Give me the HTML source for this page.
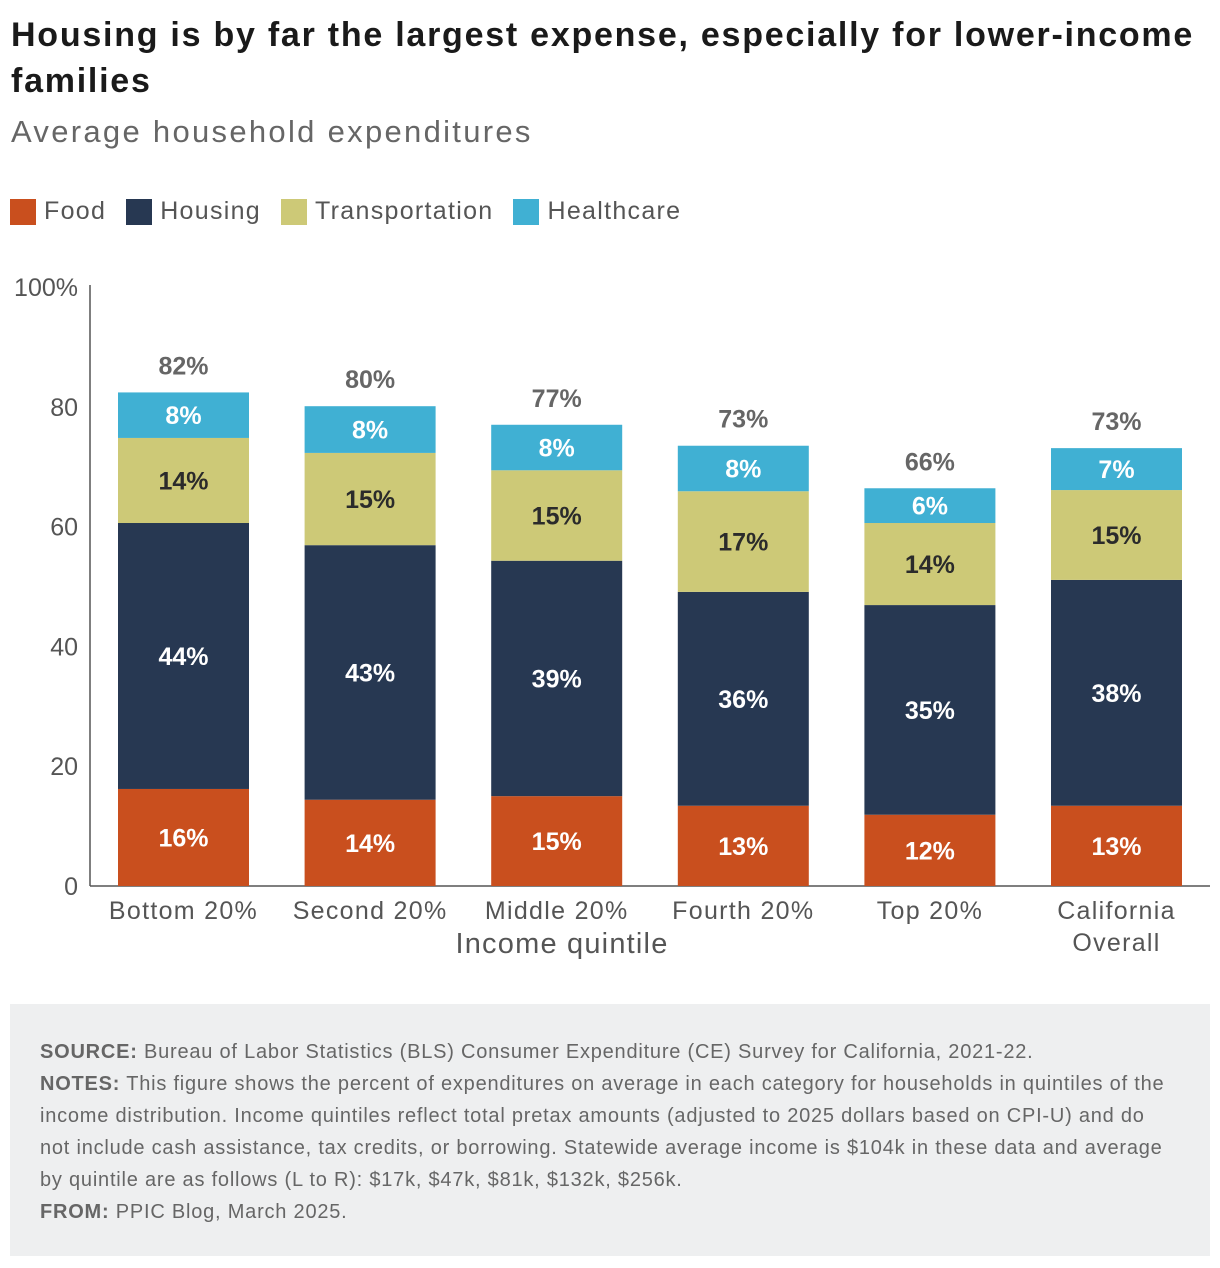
<!DOCTYPE html>
<html><head><meta charset="utf-8"><style>
body{margin:0;background:#fff;font-family:"Liberation Sans",sans-serif;width:1220px;height:1268px;position:relative;overflow:hidden}
.t{position:absolute;left:11px;top:12px;font-size:34px;font-weight:bold;color:#1a1a1a;line-height:46px;width:1205px;letter-spacing:1.75px}
.s{position:absolute;left:11px;top:114px;font-size:31px;color:#666;letter-spacing:2.3px}
.lg{position:absolute;top:197px;left:10px;display:flex;font-size:25px;color:#555;align-items:center;letter-spacing:1.3px}
.lg span.b{display:inline-block;width:26px;height:26px;margin-right:8px}
.lg div{display:flex;align-items:center;margin-right:20px}
.ft{position:absolute;left:10px;top:1004px;width:1200px;height:252px;background:#eeeff0}
.ft p{margin:0;position:absolute;left:30px;top:32px;width:1160px;font-size:20px;line-height:32px;color:#666;letter-spacing:0.78px;white-space:nowrap}
.ft b{color:#666}
</style></head><body>
<div class="t">Housing is by far the largest expense, especially for lower-income families</div>
<div class="s">Average household expenditures</div>
<div class="lg">
<div><span class="b" style="background:#c94f1e"></span>Food</div>
<div><span class="b" style="background:#273852"></span>Housing</div>
<div><span class="b" style="background:#cdc977"></span>Transportation</div>
<div><span class="b" style="background:#40b0d3"></span>Healthcare</div>
</div>
<svg id="c" width="1220" height="1000" style="position:absolute;left:0;top:0"></svg>
<div class="ft"><p><b>SOURCE:</b> Bureau of Labor Statistics (BLS) Consumer Expenditure (CE) Survey for California, 2021-22.<br><b>NOTES:</b> This figure shows the percent of expenditures on average in each category for households in quintiles of the<br>income distribution. Income quintiles reflect total pretax amounts (adjusted to 2025 dollars based on CPI-U) and do<br>not include cash assistance, tax credits, or borrowing. Statewide average income is $104k in these data and average<br>by quintile are as follows (L to R): $17k, $47k, $81k, $132k, $256k.<br><b>FROM:</b> PPIC Blog, March 2025.</p></div>
<script>
const categories=[["Bottom 20%"],["Second 20%"],["Middle 20%"],["Fourth 20%"],["Top 20%"],["California","Overall"]];
const food=[16.2,14.4,15.0,13.4,11.9,13.4];
const housing=[44.4,42.5,39.3,35.7,35.0,37.7];
const transportation=[14.2,15.4,15.1,16.8,13.7,15.0];
const healthcare=[7.6,7.8,7.6,7.6,5.8,7.0];
const totalLabels=["82%","80%","77%","73%","66%","73%"];
const yTicks=[0,20,40,60,80,100];
const yTickLabels=["0","20","40","60","80","100%"];
const svg=document.getElementById('c'),NS="http://www.w3.org/2000/svg";
const y=v=>886-v*5.99;
const xc=i=>183.5+i*186.6;
const BW=131;
function el(t,a,txt){const e=document.createElementNS(NS,t);for(const k in a)e.setAttribute(k,a[k]);if(txt!=null)e.textContent=txt;svg.appendChild(e);return e;}
yTicks.forEach((v,i)=>{const t=el('text',{x:78,y:y(v)+9,'text-anchor':'end','font-size':25,fill:'#555'},yTickLabels[i]);

});
const ax=el('line',{x1:90,y1:285,x2:90,y2:886,stroke:'#555','stroke-width':1.5});


const xa=el('line',{x1:90,y1:886,x2:1210,y2:886,stroke:'#555','stroke-width':1.5});


const series=[[food,'#c94f1e','food'],[housing,'#273852','housing'],[transportation,'#cdc977','transportation'],[healthcare,'#40b0d3','healthcare']];
categories.forEach((c,i)=>{
 let base=0;
 series.forEach(([arr,col,nm])=>{
  const v=arr[i];
  const r=el('rect',{x:xc(i)-BW/2,y:y(base+v),width:BW,height:v*5.99,fill:col});
  
  
  const tc=(nm==='transportation')?'#2b2b2b':'#fff';
  const l=el('text',{x:xc(i),y:y(base+v/2)+9,'text-anchor':'middle','font-size':25,'font-weight':'bold',fill:tc},Math.round(v)+'%');
  
  
  base+=v;
 });
 const tl=el('text',{x:xc(i),y:y(base)-18,'text-anchor':'middle','font-size':25,'font-weight':'bold',fill:'#666'},totalLabels[i]);
 
 
 c.forEach((line,j)=>{const xl=el('text',{x:xc(i),y:919+j*32,'text-anchor':'middle','font-size':25,fill:'#555','letter-spacing':1.3},line);
 
 });
});
const xt=el('text',{x:562,y:953,'text-anchor':'middle','font-size':29,fill:'#555','letter-spacing':1.2},'Income quintile');


</script>
</body></html>
